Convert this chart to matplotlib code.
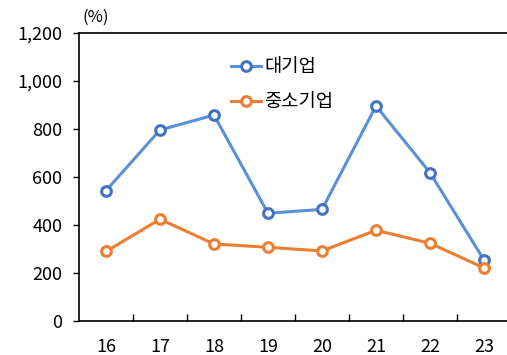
import matplotlib
matplotlib.use("Agg")
import matplotlib.pyplot as plt
import numpy as np

plt.rcParams['font.family'] = ['Noto Sans CJK KR', 'DejaVu Sans']

years = ['16', '17', '18', '19', '20', '21', '22', '23']
large = [543, 796, 858, 449, 465, 896, 618, 254]
sme = [290, 424, 321, 307, 292, 378, 324, 221]
y_ticks = [0, 200, 400, 600, 800, 1000, 1200]

fig = plt.figure(figsize=(5.07, 3.55), dpi=100)
ax = fig.add_axes([79 / 507, 34 / 355, 432 / 507, 288 / 355])

x = np.arange(len(years))
ax.plot(x, large, color='#5B8FD7', lw=2.2, marker='o', ms=7,
        mfc='white', mec='#4472C4', mew=2.2, label='대기업', zorder=3)
ax.plot(x, sme, color='#ED7D31', lw=2.2, marker='o', ms=7,
        mfc='white', mec='#ED7D31', mew=2.2, label='중소기업', zorder=3)

ax.set_xlim(-0.5, len(years) - 0.5)
ax.set_ylim(0, 1200)
ax.set_xticks(x)
ax.set_xticklabels(years)
ax.set_xticks(np.arange(0.5, len(years) - 1, 1), minor=True)
ax.tick_params(axis='x', which='major', length=0, pad=12, labelsize=13)
ax.tick_params(axis='x', which='minor', direction='in', length=5, width=1)
ax.set_yticks(y_ticks)
ax.set_yticklabels([f'{v:,}' for v in y_ticks])
ax.tick_params(axis='y', direction='out', length=4, width=1, pad=8, labelsize=13)

for s in ax.spines.values():
    s.set_color('black')
    s.set_linewidth(1.2)

fig.text(96 / 507, 1 - 17 / 355, '(%)', ha='center', va='center', fontsize=12)

ax.legend(loc='upper left', bbox_to_anchor=(0.335, 0.945), frameon=False,
          fontsize=13.5, handlelength=1.6, handletextpad=0.15, labelspacing=0.75,
          borderaxespad=0)

fig.savefig('out.png', dpi=100)
